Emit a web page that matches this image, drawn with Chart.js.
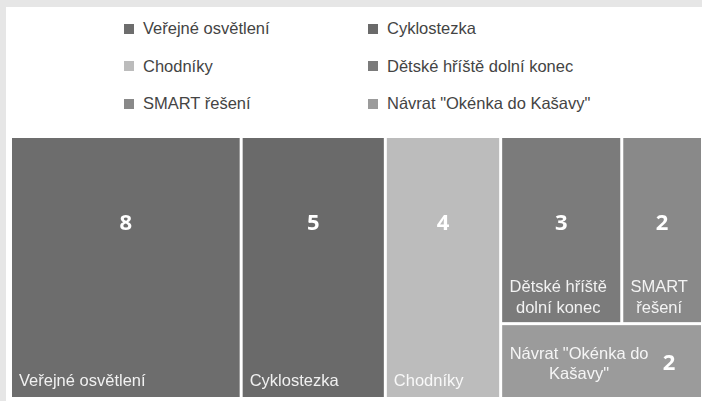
<!DOCTYPE html>
<html>
<head>
<meta charset="utf-8">
<script src="https://cdn.jsdelivr.net/npm/chart.js@4.4.1/dist/chart.umd.min.js"></script>
<style>
  body { margin: 0; width: 702px; height: 401px; overflow: hidden; background: #e6e6e6; font-family: "Liberation Sans", Arial, sans-serif; }
  #panel { position: absolute; left: 6px; top: 7px; right: 0; bottom: 0; background: #fff; }
  #legend { position: absolute; left: 118px; top: 3px; display: grid; grid-template-columns: 244px auto; grid-auto-rows: 37.5px; }
  .item { display: flex; align-items: center; font-size: 16.5px; color: #444; white-space: nowrap; }
  .item span.box { width: 10px; height: 10px; margin-right: 9px; flex: none; }
  #wrap { position: absolute; left: 12px; top: 138px; width: 692px; height: 262px; }
</style>
</head>
<body>
<div id="panel"><div id="legend"></div></div>
<div id="wrap"><canvas id="chart"></canvas></div>
<script>
const categories = [
  "Veřejné osvětlení",
  "Cyklostezka",
  "Chodníky",
  "Dětské hříště dolní konec",
  "SMART řešení",
  'Návrat "Okénka do Kašavy"',
];
const values = [8, 5, 4, 3, 2, 2];
const colors = ["#6d6d6d", "#6a6a6a", "#bcbcbc", "#7b7b7b", "#898989", "#9b9b9b"];

const GAP = 3;
const LABEL_FONT = "16.5px 'Liberation Sans', Arial, sans-serif";
const VALUE_FONT = "bold 22px 'Open Sans', sans-serif";

// tile shape: 1 is a square, bigger is more stretched
function ratio(w, h) {
  return Math.max(w / h, h / w);
}

// wide boxes get one full-height column per item, tall boxes are filled
// row by row while the previous tile in the row keeps getting squarer
function layoutTiles(vals, box) {
  const total = vals.reduce((a, b) => a + b, 0);
  const unit = (box.w * box.h) / total;
  let rest = vals.map((v, i) => ({ i, a: v * unit }));
  let { x, y, w, h } = box;
  const out = [];
  while (rest.length) {
    if (w >= h || rest.length === 1) {
      const t = rest.shift();
      const cw = w >= h ? t.a / h : w;
      const ch = w >= h ? h : t.a / w;
      out[t.i] = { x, y, w: cw, h: ch };
      if (w >= h) { x += cw; w -= cw; } else { y += ch; h -= ch; }
      continue;
    }
    let row = [rest[0]];
    for (let k = 1; k < rest.length; k++) {
      const last = row[row.length - 1];
      const s0 = row.reduce((a, t) => a + t.a, 0);
      const s1 = s0 + rest[k].a;
      const before = ratio(last.a / (s0 / w), s0 / w);
      const after = ratio(last.a / (s1 / w), s1 / w);
      if (after > before) break;
      row.push(rest[k]);
    }
    const rh = row.reduce((a, t) => a + t.a, 0) / w;
    let cx = x;
    row.forEach((t) => {
      const tw = t.a / rh;
      out[t.i] = { x: cx, y, w: tw, h: rh };
      cx += tw;
    });
    y += rh; h -= rh;
    rest = rest.slice(row.length);
  }
  return out;
}

function wrapText(ctx, text, maxW) {
  const words = text.split(" ");
  const lines = [];
  let line = "";
  words.forEach((word) => {
    const test = line ? line + " " + word : word;
    if (line && ctx.measureText(test).width > maxW) {
      lines.push(line);
      line = word;
    } else {
      line = test;
    }
  });
  if (line) lines.push(line);
  return lines;
}

const tilePlugin = {
  id: "tiles",
  afterDatasetsDraw(chart) {
    const { ctx, chartArea, scales } = chart;
    const aspect = chartArea.width / chartArea.height;
    const tiles = layoutTiles(values, { x: 0, y: 0, w: aspect, h: 1 });
    ctx.save();
    tiles.forEach((t, i) => {
      const left = scales.x.getPixelForValue(t.x / aspect);
      const right = scales.x.getPixelForValue((t.x + t.w) / aspect) - GAP;
      const top = scales.y.getPixelForValue(t.y);
      const bottom = scales.y.getPixelForValue(t.y + t.h) - GAP;
      const w = right - left;
      const h = bottom - top;
      const cx = left + w / 2;

      ctx.fillStyle = colors[i];
      ctx.fillRect(left, top, w, h);

      ctx.fillStyle = "rgba(255,255,255,0.9)";
      ctx.font = LABEL_FONT;
      if (h >= 120) {
        if (ctx.measureText(categories[i]).width <= w - 14) {
          ctx.textAlign = "left";
          ctx.textBaseline = "alphabetic";
          ctx.fillText(categories[i], left + 7, bottom - 11);
        } else {
          const lines = wrapText(ctx, categories[i], w - 10);
          ctx.textAlign = "center";
          ctx.textBaseline = "alphabetic";
          lines.forEach((ln, k) => {
            ctx.fillText(ln, cx - 3, bottom - 9 - (lines.length - 1 - k) * 21);
          });
        }
        ctx.fillStyle = "#fff";
        ctx.font = VALUE_FONT;
        ctx.textAlign = "center";
        ctx.textBaseline = "middle";
        ctx.fillText(String(values[i]), cx, top + Math.min(86, h / 2));
      } else {
        const cy = top + h / 2;
        const lines = wrapText(ctx, categories[i], w - 50);
        ctx.textAlign = "center";
        ctx.textBaseline = "middle";
        lines.forEach((ln, k) => {
          ctx.fillText(ln, left + (w - 45) / 2, cy + 3 + (k - (lines.length - 1) / 2) * 20);
        });
        ctx.fillStyle = "#fff";
        ctx.font = VALUE_FONT;
        ctx.fillText(String(values[i]), right - 32, cy + 3);
      }
    });
    ctx.restore();
  },
};

const legendEl = document.getElementById("legend");
categories.forEach((name, i) => {
  const item = document.createElement("div");
  item.className = "item";
  const box = document.createElement("span");
  box.className = "box";
  box.style.background = colors[i];
  item.appendChild(box);
  item.appendChild(document.createTextNode(name));
  legendEl.appendChild(item);
});

function drawChart() {
  new Chart(document.getElementById("chart"), {
    type: "scatter",
    data: {
      labels: categories,
      datasets: [{ label: "Počet", data: [] }],
    },
    options: {
      responsive: true,
      maintainAspectRatio: false,
      animation: false,
      layout: { padding: 0 },
      scales: {
        x: { type: "linear", min: 0, max: 1, display: false },
        y: { type: "linear", min: 0, max: 1, reverse: true, display: false },
      },
      plugins: {
        legend: { display: false },
        tooltip: { enabled: false },
      },
    },
    plugins: [tilePlugin],
  });
}

// make sure the canvas text gets the same faces as the legend
Promise.all([document.fonts.load(LABEL_FONT), document.fonts.load(VALUE_FONT)])
  .catch(() => null)
  .then(drawChart);
</script>
</body>
</html>
